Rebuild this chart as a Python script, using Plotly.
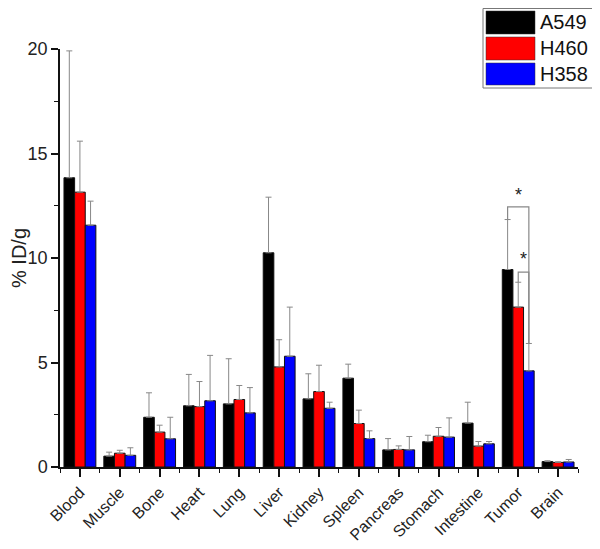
import plotly.graph_objects as go

organs = ['Blood', 'Muscle', 'Bone', 'Heart', 'Lung', 'Liver', 'Kidney',
          'Spleen', 'Pancreas', 'Stomach', 'Intestine', 'Tumor', 'Brain']
series_names = ['A549', 'H460', 'H358']
series_colors = ['#000000', '#ff0000', '#0000ff']

a549 = [13.84, 0.52, 2.38, 2.93, 3.02, 10.25, 3.26, 4.25, 0.82, 1.21, 2.10, 9.45, 0.26]
a549_err = [6.07, 0.19, 1.17, 1.50, 2.16, 2.66, 1.20, 0.67, 0.54, 0.31, 1.00, 2.39, 0.04]
h460 = [13.15, 0.66, 1.67, 2.89, 3.23, 4.79, 3.61, 2.08, 0.84, 1.47, 1.00, 7.65, 0.22]
h460_err = [2.44, 0.14, 0.33, 1.20, 0.67, 1.30, 1.26, 0.64, 0.17, 0.42, 0.22, 1.19, 0.03]
h358 = [11.57, 0.56, 1.35, 3.17, 2.59, 5.30, 2.81, 1.36, 0.82, 1.43, 1.11, 4.60, 0.24]
h358_err = [1.15, 0.36, 1.03, 2.17, 1.21, 2.35, 0.29, 0.37, 0.64, 0.92, 0.11, 1.31, 0.12]

# significance brackets on Tumor: (series i, series j, bracket height, star height)
sig_pairs = [(0, 2, 12.45, 13.0), (1, 2, 9.32, 9.95)]

values = [a549, h460, h358]
errors = [a549_err, h460_err, h358_err]

x = list(range(len(organs)))
fig = go.Figure()
for name, col, v, e in zip(series_names, series_colors, values, errors):
    fig.add_trace(go.Bar(x=x, y=v, name=name,
                         marker=dict(color=col, line=dict(color='#111', width=1)),
                         error_y=dict(type='data', array=e, symmetric=False,
                                      arrayminus=[0] * len(e), color='#888',
                                      thickness=1, width=3)))

# page body has an 8px margin, so the figure is 8px smaller than the window
FW, FH = 592, 541
L, R, T, B = 52, 22, 41, 82
W = FW - L - R
H = FH - T - B
gap = 0.2
bw = (1 - gap) / len(series_names)

def bar_x(cat, s):
    return cat - (1 - gap) / 2 + bw * (s + 0.5)

tumor = organs.index('Tumor')
shapes = []
annotations = []
for i, j, yb, ys in sig_pairs:
    xi, xj = bar_x(tumor, i), bar_x(tumor, j)
    yi = values[i][tumor] + errors[i][tumor]
    yj = values[j][tumor] + errors[j][tumor]
    path = f'M {xi},{yi} L {xi},{yb} L {xj},{yb} L {xj},{yj}'
    shapes.append(dict(type='path', path=path, xref='x', yref='y',
                       line=dict(color='#888', width=1.2)))
    annotations.append(dict(x=(xi + xj) / 2, y=ys, text='*', showarrow=False,
                            xref='x', yref='y', font=dict(size=18, color='#222'),
                            yanchor='middle'))

# custom legend with large swatches (positions in window pixels)
def px_x(p):
    return (p - 8 - L) / W

def px_y(p):
    return (FH - B - (p - 8)) / H

shapes.append(dict(type='rect', xref='paper', yref='paper',
                   x0=px_x(483), x1=px_x(596), y0=px_y(88), y1=px_y(8.5),
                   line=dict(color='#777', width=1), fillcolor='white'))
rows = [(11, 34), (37, 60), (63, 85)]
for (r0, r1), name, col in zip(rows, series_names, series_colors):
    shapes.append(dict(type='rect', xref='paper', yref='paper',
                       x0=px_x(486), x1=px_x(535), y0=px_y(r1), y1=px_y(r0),
                       line=dict(color='#333', width=0.5), fillcolor=col))
    annotations.append(dict(x=px_x(539), y=px_y((r0 + r1) / 2), xref='paper', yref='paper',
                            text=name, showarrow=False, xanchor='left', yanchor='middle',
                            borderpad=0, font=dict(size=20, color='#111')))

fig.update_layout(
    width=FW, height=FH,
    margin=dict(l=L, r=R, t=T, b=B),
    paper_bgcolor='white', plot_bgcolor='white',
    barmode='group', bargap=gap, bargroupgap=0,
    showlegend=False,
    font=dict(family='Liberation Sans, Arial, sans-serif', color='#222'),
    shapes=shapes, annotations=annotations,
)
fig.update_xaxes(range=[-0.5, len(organs) - 0.5], tickvals=x, ticktext=organs,
                 tickangle=-45, tickfont=dict(size=16),
                 showline=True, linecolor='#111', linewidth=1.5,
                 ticks='outside', ticklen=8, tickwidth=1.5, tickcolor='#111',
                 minor=dict(tickvals=[i - 0.5 for i in range(len(organs) + 1)],
                            ticks='outside', ticklen=4, tickwidth=1.2, tickcolor='#111'),
                 showgrid=False, zeroline=False, automargin=False)
fig.update_yaxes(range=[0, 20], tickvals=[0, 5, 10, 15, 20], tickfont=dict(size=18),
                 showline=True, linecolor='#111', linewidth=1.5,
                 ticks='outside', ticklen=7, tickwidth=1.5, tickcolor='#111',
                 minor=dict(dtick=2.5, ticks='outside', ticklen=4, tickwidth=1.2,
                            tickcolor='#111'),
                 title=dict(text='% ID/g', font=dict(size=20), standoff=12),
                 showgrid=False, zeroline=False, automargin=False)

fig.write_html('out.html')
